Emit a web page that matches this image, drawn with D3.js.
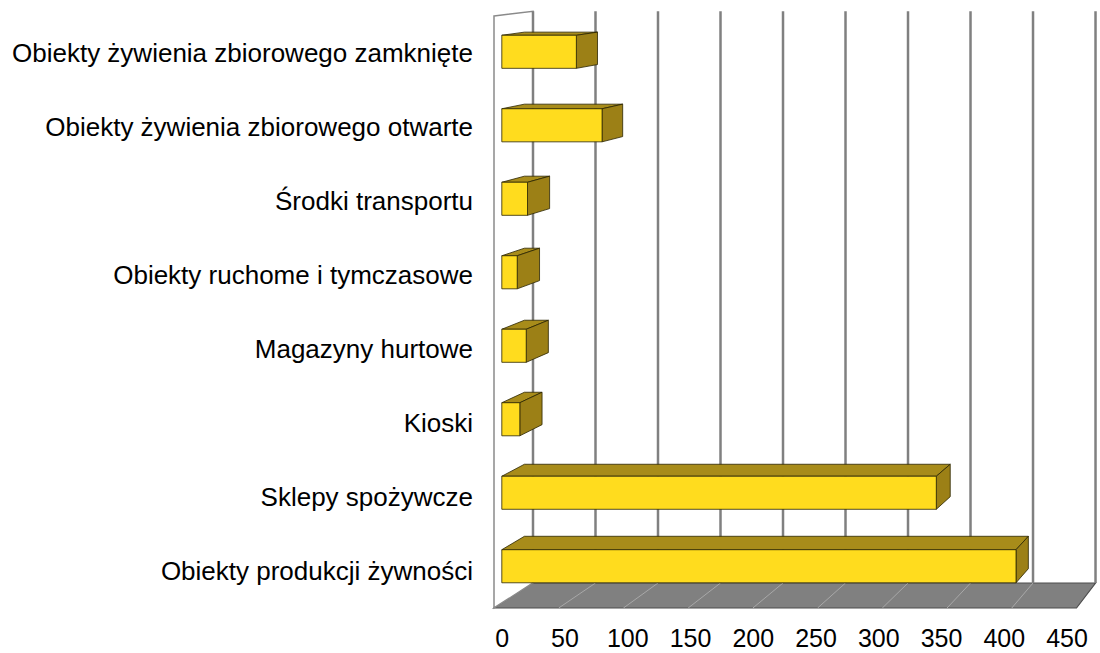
<!DOCTYPE html>
<html>
<head>
<meta charset="utf-8">
<script src="https://cdn.jsdelivr.net/npm/d3@7"></script>
<style>
  body { margin: 0; background: #fff; }
  text { font-family: "Liberation Sans", Arial, sans-serif; fill: #000; }
</style>
</head>
<body>
<div id="chart"></div>
<script>
// dane
var categories = [
  'Obiekty żywienia zbiorowego zamknięte',
  'Obiekty żywienia zbiorowego otwarte',
  'Środki transportu',
  'Obiekty ruchome i tymczasowe',
  'Magazyny hurtowe',
  'Kioski',
  'Sklepy spożywcze',
  'Obiekty produkcji żywności'
]
var values = [58, 78, 20, 12, 19, 14, 338, 400]
var ticks = [0, 50, 100, 150, 200, 250, 300, 350, 400, 450]

var width = 1100, height = 653

// perspektywa 3D - punkt zbiegu
var vp = {x: 1631, y: -121}
var depthK = 0.0343
function proj(X, Y, z) {
  var s = 1 - depthK * z
  return [vp.x + (X - vp.x) * s, vp.y + (Y - vp.y) * s]
}
function poly(pts) {
  return 'M' + pts.map(function(p) { return p[0] + ',' + p[1] }).join('L') + 'Z'
}

var x = d3.scaleLinear().domain([0, 450]).range([494, 1076.5])
var y = d3.scaleBand().domain(categories).range([16, 608])
  .paddingInner(0.55).paddingOuter(0.275)
var xLabel = d3.scaleLinear().domain([50, 450]).range([565, 1067])

var yTop = 16, yBottom = 608
var z0 = 0.2, z1 = 0.78

var svg = d3.select('#chart').append('svg')
  .attr('width', width)
  .attr('height', height)

// podłoga
svg.append('path')
  .attr('d', poly([proj(x(0), yBottom, 0), proj(x(450), yBottom, 0), proj(x(450), yBottom, 1), proj(x(0), yBottom, 1)]))
  .attr('fill', '#808080')
  .attr('stroke', '#4d4d4d')
  .attr('stroke-width', 1.2)

svg.selectAll('.floorline')
  .data(ticks.slice(1, -1))
  .enter()
  .append('line')
  .attr('class', 'floorline')
  .attr('x1', function(d) { return proj(x(d), yBottom, 0)[0] })
  .attr('y1', function(d) { return proj(x(d), yBottom, 0)[1] })
  .attr('x2', function(d) { return proj(x(d), yBottom, 1)[0] })
  .attr('y2', function(d) { return proj(x(d), yBottom, 1)[1] })
  .attr('stroke', '#a8a8a8')
  .attr('stroke-width', 1)

// ściana boczna
svg.append('path')
  .attr('d', poly([proj(x(0), yTop, 0), proj(x(0), yTop, 1), proj(x(0), yBottom, 1), proj(x(0), yBottom, 0)]))
  .attr('fill', '#fff')
  .attr('stroke', '#8a8a8a')
  .attr('stroke-width', 1.5)

// linie siatki na tylnej ścianie
svg.selectAll('.grid')
  .data(ticks)
  .enter()
  .append('line')
  .attr('class', 'grid')
  .attr('x1', function(d) { return proj(x(d), yTop, 1)[0] })
  .attr('y1', function(d) { return proj(x(d), yTop, 1)[1] })
  .attr('x2', function(d) { return proj(x(d), yBottom, 1)[0] })
  .attr('y2', function(d) { return proj(x(d), yBottom, 1)[1] })
  .attr('stroke', '#808080')
  .attr('stroke-width', 2.5)

// słupki
var bw = y.bandwidth()
var bars = svg.selectAll('.bar')
  .data(categories.map(function(c, i) { return {name: c, value: values[i]} }))
  .enter()
  .append('g')
  .attr('class', 'bar')

bars.append('path')
  .attr('d', function(d) {
    var Yt = y(d.name)
    return poly([proj(x(0), Yt, z0), proj(x(d.value), Yt, z0), proj(x(d.value), Yt, z1), proj(x(0), Yt, z1)])
  })
  .attr('fill', '#a88c1a')
  .attr('stroke', '#2b2400')
  .attr('stroke-width', 0.8)
  .attr('stroke-linejoin', 'round')

bars.append('path')
  .attr('d', function(d) {
    var Yt = y(d.name), Yb = Yt + bw
    return poly([proj(x(d.value), Yt, z0), proj(x(d.value), Yt, z1), proj(x(d.value), Yb, z1), proj(x(d.value), Yb, z0)])
  })
  .attr('fill', '#9c8016')
  .attr('stroke', '#2b2400')
  .attr('stroke-width', 0.8)
  .attr('stroke-linejoin', 'round')

bars.append('path')
  .attr('d', function(d) {
    var Yt = y(d.name), Yb = Yt + bw
    return poly([proj(x(0), Yt, z0), proj(x(d.value), Yt, z0), proj(x(d.value), Yb, z0), proj(x(0), Yb, z0)])
  })
  .attr('fill', '#ffdc1e')
  .attr('stroke', '#2b2400')
  .attr('stroke-width', 0.8)
  .attr('stroke-linejoin', 'round')

// etykiety kategorii
svg.selectAll('.cat')
  .data(categories)
  .enter()
  .append('text')
  .attr('class', 'cat')
  .attr('x', 473)
  .attr('y', function(d) { return y(d) + bw / 2 })
  .attr('dy', '0.35em')
  .style('text-anchor', 'end')
  .style('font-size', '26px')
  .text(function(d) { return d })

// etykiety osi wartości
svg.selectAll('.tick')
  .data(ticks)
  .enter()
  .append('text')
  .attr('class', 'tick')
  .attr('x', function(d) { return xLabel(d) })
  .attr('y', 647)
  .style('text-anchor', 'middle')
  .style('font-size', '25px')
  .text(function(d) { return d })
</script>
</body>
</html>
